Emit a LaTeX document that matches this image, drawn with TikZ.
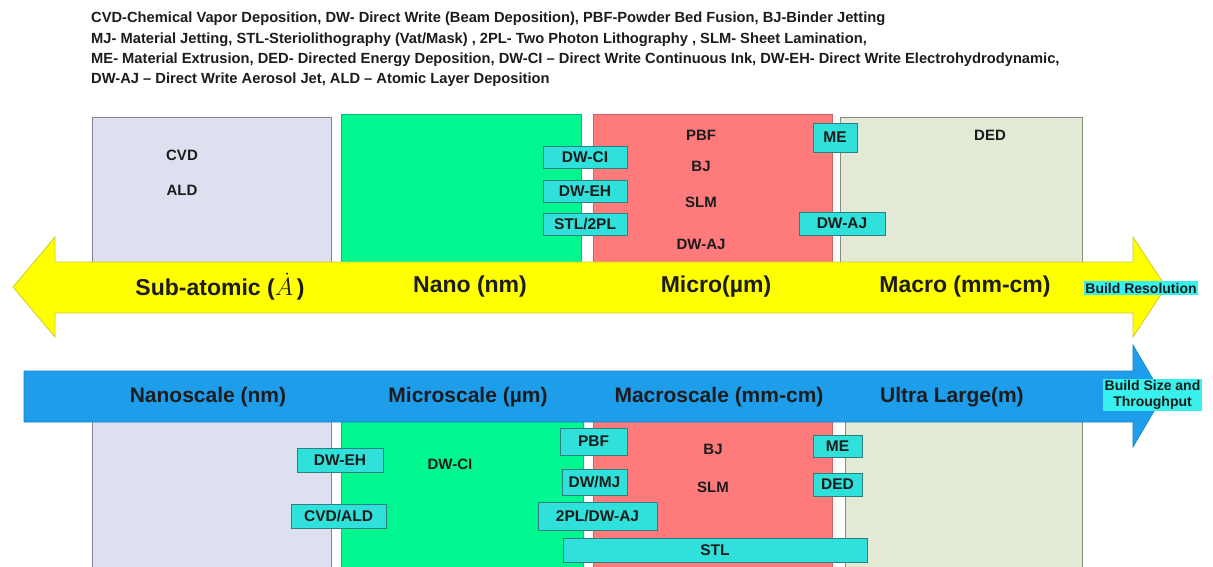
\documentclass[tikz,border=0pt]{standalone}
\usepackage{fontspec}
\setmainfont{Liberation Sans}
\usepackage{tikz}
\usetikzlibrary{positioning}
\definecolor{lavbox}{HTML}{DCE0EF}
\definecolor{greenbox}{HTML}{00F68F}
\definecolor{redbox}{HTML}{FF7B7B}
\definecolor{palebox}{HTML}{E2EAD6}
\definecolor{tagcyan}{HTML}{30E0DA}
\definecolor{tagedge}{HTML}{2E8080}
\definecolor{hintcyan}{HTML}{38F0EC}
\definecolor{yellowbar}{HTML}{FFFF00}
\definecolor{bluebar}{HTML}{1E9DEA}
\definecolor{inkdark}{HTML}{1C1C1C}

\begin{document}
\begin{tikzpicture}[x=1pt, y=-1pt,
  zone/.style={line width=0.8pt},
  hdr/.style={anchor=north west, align=left, inner sep=0pt, text=inkdark,
    font=\fontsize{14.7}{20.2}\selectfont\bfseries},
  bandlab/.style={inner sep=0pt, text=inkdark, font=\fontsize{23}{25}\selectfont\bfseries},
  lab/.style={inner sep=0pt, text=inkdark, font=\fontsize{15}{17}\selectfont\bfseries},
  tag/.style={draw=tagedge, fill=tagcyan, line width=1pt, inner sep=0pt,
    minimum height=22pt, text=inkdark, font=\fontsize{15.5}{17}\selectfont\bfseries},
  hint/.style={fill=hintcyan, inner sep=1.5pt, align=center, text=inkdark,
    font=\fontsize{14}{15.5}\selectfont\bfseries}
]
\fill[white] (0,0) rectangle (1213,566);
\useasboundingbox (0,0) rectangle (1213,566);

% legend of abbreviations
\node[hdr] (legend) at (91,12)
{CVD-Chemical Vapor Deposition, DW- Direct Write (Beam Deposition), PBF-Powder Bed Fusion, BJ-Binder Jetting\\
MJ- Material Jetting, STL-Steriolithography (Vat/Mask) , 2PL- Two Photon Lithography , SLM- Sheet Lamination,\\
ME- Material Extrusion, DED- Directed Energy Deposition, DW-CI – Direct Write Continuous Ink, DW-EH- Direct Write Electrohydrodynamic,\\
DW-AJ – Direct Write Aerosol Jet, ALD – Atomic Layer Deposition};

% upper zones (resolution)
\draw[zone, fill=lavbox, draw=lavbox!60!black] (92,117) rectangle (331,262);
\draw[zone, fill=greenbox, draw=greenbox!80!black] (341,114) rectangle (581,262);
\draw[zone, fill=redbox, draw=redbox!80!black] (593,114) rectangle (832,262);
\draw[zone, fill=palebox, draw=palebox!60!black] (840,117) rectangle (1082,262);

% lower zones (size)
\draw[zone, fill=lavbox, draw=lavbox!60!black] (92,420) rectangle (331,570);
\draw[zone, fill=greenbox, draw=greenbox!80!black] (341,420) rectangle (583,570);
\draw[zone, fill=redbox, draw=redbox!80!black] (593,420) rectangle (832,570);
\draw[zone, fill=palebox, draw=palebox!60!black] (845,420) rectangle (1082,570);

% resolution arrow
\draw[fill=yellowbar, draw=yellowbar!60!gray, line width=0.8pt]
  (13,287) -- (55,237) -- (55,262) -- (1133,262) -- (1133,237) -- (1166,287)
  -- (1133,337) -- (1133,313) -- (55,313) -- (55,337) -- cycle;
\node[bandlab] (subat) at (220,287) {Sub-atomic ($\dot{A}$\,)};
\node[bandlab] (nano) at (470,287) {Nano (nm)};
\node[bandlab] (micro) at (716,287) {Micro(µm)};
\node[bandlab] (macro) at (965,287) {Macro (mm-cm)};
\node[hint] (buildres) at (1141,288) {Build Resolution};

% size arrow
\draw[fill=bluebar, draw=bluebar!85!black, line width=0.6pt]
  (24,371) -- (1133,371) -- (1133,345) -- (1163,396) -- (1133,447)
  -- (1133,422) -- (24,422) -- cycle;
\node[bandlab, font=\fontsize{21}{23}\selectfont\bfseries] (nanosc) at (208,397) {Nanoscale (nm)};
\node[bandlab, font=\fontsize{21}{23}\selectfont\bfseries] (microsc) at (468,397) {Microscale (µm)};
\node[bandlab, font=\fontsize{21}{23}\selectfont\bfseries] (macrosc) at (719,397) {Macroscale (mm-cm)};
\node[bandlab, font=\fontsize{21}{23}\selectfont\bfseries] (ultra) at (952,397) {Ultra Large(m)};
\node[hint] (buildsize) at (1152.5,395) {Build Size and\\Throughput};

% upper labels
\node[lab] (cvd) at (182,155) {CVD};
\node[lab] (ald) at (182,190) {ALD};
\node[lab] (pbf) at (701,135) {PBF};
\node[lab] (bj) at (701,166) {BJ};
\node[lab] (slm) at (701,202) {SLM};
\node[lab] (dwaj) at (701,244) {DW-AJ};
\node[lab] (ded) at (990,135) {DED};

\node[tag, minimum width=84pt] (tdwci) at (585,157) {DW-CI};
\node[tag, minimum width=84pt, below=11pt of tdwci] (tdweh) {DW-EH};
\node[tag, minimum width=84pt, below=10pt of tdweh] (tstl) {STL/2PL};
\node[tag, minimum width=44pt, minimum height=29pt] (tme) at (835,137.5) {ME};
\node[tag, minimum width=86pt, minimum height=23pt] (tdwaj) at (842,223.5) {DW-AJ};

% lower labels
\node[lab] (ldwci) at (450,464) {DW-CI};
\node[lab] (lbj) at (713,449) {BJ};
\node[lab] (lslm) at (713,487) {SLM};

\node[tag, minimum width=86pt, minimum height=24pt] (bdweh) at (340,460) {DW-EH};
\node[tag, minimum width=95pt, minimum height=24pt] (bcvd) at (338.5,516.5) {CVD/ALD};
\node[tag, minimum width=67pt, minimum height=27pt] (bpbf) at (593.5,441.5) {PBF};
\node[tag, minimum width=65pt, minimum height=26pt] (bdwmj) at (594.5,482) {DW/MJ};
\node[tag, minimum width=119pt, minimum height=28pt] (b2pl) at (597.5,516) {2PL/DW-AJ};
\node[tag, minimum width=304pt, minimum height=24pt] (bstl) at (715,550) {STL};
\node[tag, minimum width=49pt] (bme) at (837.5,446.5) {ME};
\node[tag, minimum width=49pt, minimum height=23pt] (bded) at (837.5,484.5) {DED};
\end{tikzpicture}
\end{document}
